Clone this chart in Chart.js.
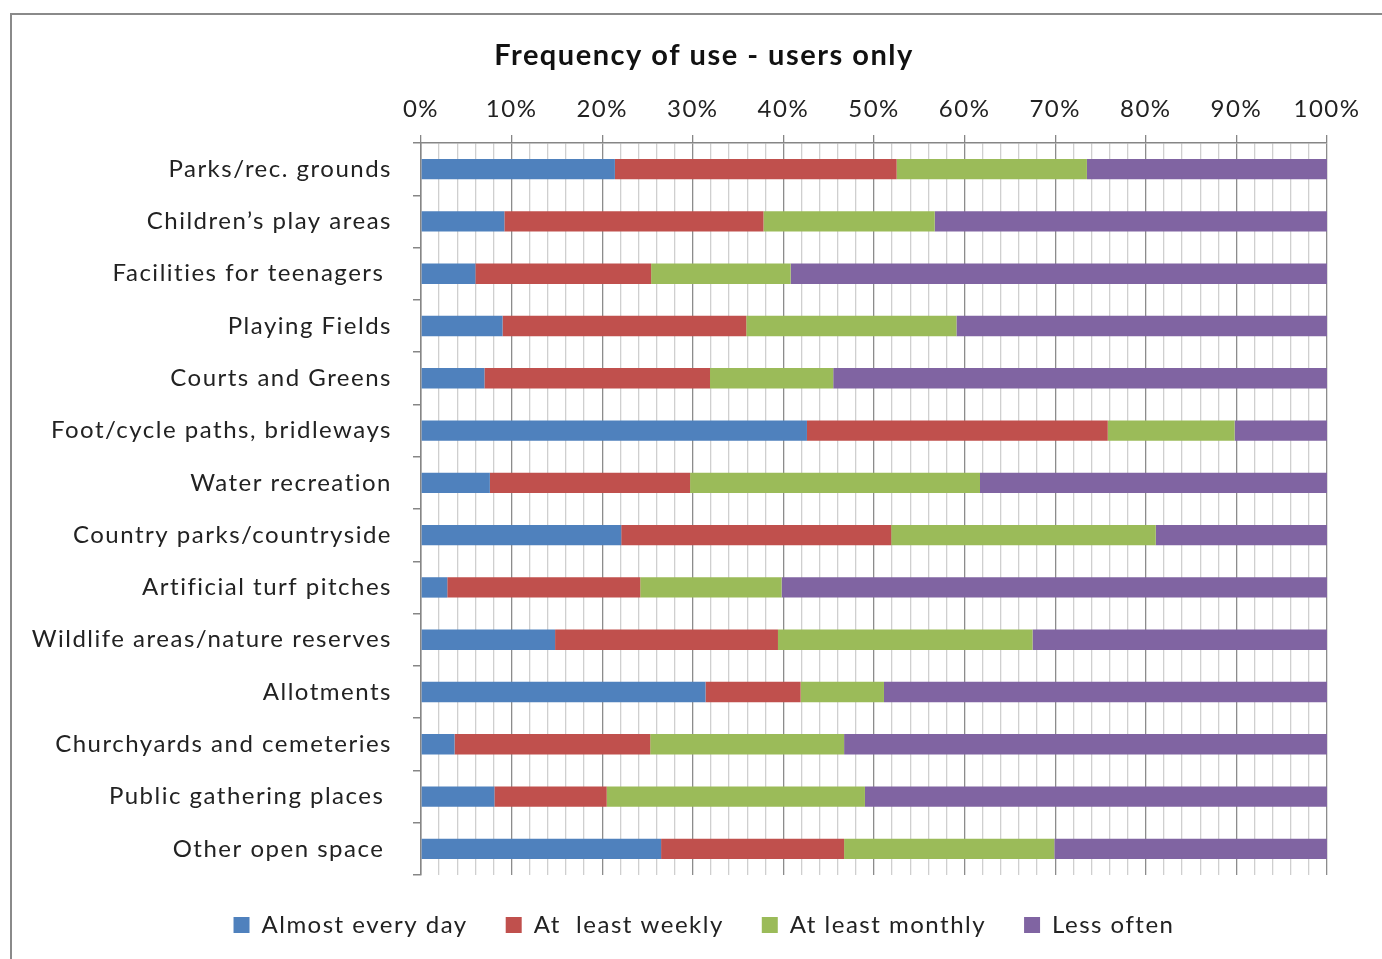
<!DOCTYPE html>
<html>
<head>
<meta charset="utf-8">
<title>Frequency of use - users only</title>
<script src="https://cdn.jsdelivr.net/npm/chart.js@4/dist/chart.umd.min.js"></script>
<style>
    html, body { margin: 0; padding: 0; background: #ffffff; overflow: hidden; }
    #frame {
        position: absolute; left: 10px; top: 13px; width: 1500px; height: 1100px;
        border-left: 2px solid #8a8a8a; border-top: 2px solid #8a8a8a;
    }
    #wrap { position: absolute; left: 0; top: 0; width: 1382px; height: 959px; }
</style>
</head>
<body>
<div id="frame"></div>
<div id="wrap"><canvas id="usageChart"></canvas></div>
<script>
// Frequency of use of open spaces, users only (% of respondents)

let categories = [
    'Parks/rec. grounds',
    'Children\u2019s play areas',
    'Facilities for teenagers ',
    'Playing Fields',
    'Courts and Greens',
    'Foot/cycle paths, bridleways',
    'Water recreation',
    'Country parks/countryside',
    'Artificial turf pitches',
    'Wildlife areas/nature reserves',
    'Allotments',
    'Churchyards and cemeteries',
    'Public gathering places ',
    'Other open space '
]

let seriesNames = ['Almost every day', 'At  least weekly', 'At least monthly', 'Less often']

let almostEveryDay = [21.4, 9.2, 6.0, 9.0, 7.0, 42.6, 7.6, 22.1, 2.9, 14.8, 31.4, 3.7, 8.1, 26.5]
let atLeastWeekly  = [31.1, 28.6, 19.4, 26.9, 24.9, 33.2, 22.1, 29.8, 21.3, 24.6, 10.5, 21.6, 12.4, 20.2]
let atLeastMonthly = [21.0, 18.9, 15.4, 23.2, 13.6, 14.0, 32.0, 29.2, 15.6, 28.1, 9.2, 21.4, 28.5, 23.2]
let lessOften      = [26.5, 43.3, 59.2, 40.9, 54.5, 10.2, 38.3, 18.9, 60.2, 32.5, 48.9, 53.3, 51.0, 30.1]

let colours = ['#4f81bd', '#c0504d', '#9bbb59', '#8064a2']

const fontFamily = 'Lato, "Open Sans", sans-serif'
const axisGrey = '#868686'

// the text in this chart is a little spread out, canvas letterSpacing gets reset on resize so set it every time
const letterSpacingPlugin = {
    id: 'letterSpacing',
    beforeUpdate: (chart) => { chart.ctx.letterSpacing = '1.5px' },
    beforeDraw: (chart) => { chart.ctx.letterSpacing = '1.5px' }
}

let usageCtx = document.getElementById('usageChart').getContext('2d')

let usageChart = new Chart(usageCtx, {
    type: 'bar',
    plugins: [letterSpacingPlugin],
    data: {
        labels: categories,
        datasets: [almostEveryDay, atLeastWeekly, atLeastMonthly, lessOften].map((values, i) => ({
            label: seriesNames[i],
            data: values,
            backgroundColor: colours[i],
            borderWidth: 0,
            barPercentage: 0.39,
            categoryPercentage: 1
        }))
    },
    options: {
        indexAxis: 'y',
        responsive: true,
        maintainAspectRatio: false,
        animation: false,
        layout: {
            // right side pushed out so title + legend centre sits where it should
            padding: { left: 0, right: -26, top: 0, bottom: 12 }
        },
        plugins: {
            tooltip: { enabled: false },
            title: {
                display: true,
                text: 'Frequency of use - users only',
                color: '#111111',
                font: { family: fontFamily, size: 29, weight: 'bold' },
                padding: { top: 38.6, bottom: 10 }
            },
            legend: {
                position: 'bottom',
                labels: {
                    boxWidth: 16,
                    boxHeight: 16,
                    padding: 38,
                    color: '#222222',
                    font: { family: fontFamily, size: 24 }
                }
            }
        },
        scales: {
            x: {
                position: 'top',
                stacked: true,
                min: 0,
                max: 100,
                ticks: {
                    stepSize: 2,
                    autoSkip: false,
                    maxRotation: 0,
                    padding: 11.6,
                    color: '#222222',
                    font: { family: fontFamily, size: 24 },
                    callback: (v) => (v % 10 === 0 ? v + '%' : '')
                },
                grid: {
                    lineWidth: 1.3,
                    tickLength: 8,
                    color: (c) => (c.tick && c.tick.value % 10 === 0 ? '#8c8c8c' : '#cfcfcf'),
                    tickColor: (c) => (c.tick && c.tick.value % 10 === 0 ? axisGrey : 'rgba(0,0,0,0)')
                },
                border: { color: axisGrey, width: 1.5 },
                afterFit: (s) => {
                    s.height = 59.6
                    s.paddingLeft = 0
                    s.paddingRight = 0
                }
            },
            y: {
                stacked: true,
                ticks: {
                    padding: 21,
                    color: '#222222',
                    font: { family: fontFamily, size: 24 }
                },
                grid: {
                    drawOnChartArea: false,
                    tickLength: 8,
                    tickColor: axisGrey,
                    lineWidth: 1.5
                },
                border: { color: axisGrey, width: 1.5 },
                afterFit: (s) => {
                    s.width = 421
                    s.paddingTop = 0
                    s.paddingBottom = 0
                }
            },
            // empty spacer on the right so the plot ends at 100%
            spacer: {
                type: 'linear',
                position: 'right',
                grid: { display: false },
                ticks: { display: false },
                border: { display: false },
                afterFit: (s) => {
                    s.width = 81
                }
            }
        }
    }
})
</script>
</body>
</html>
